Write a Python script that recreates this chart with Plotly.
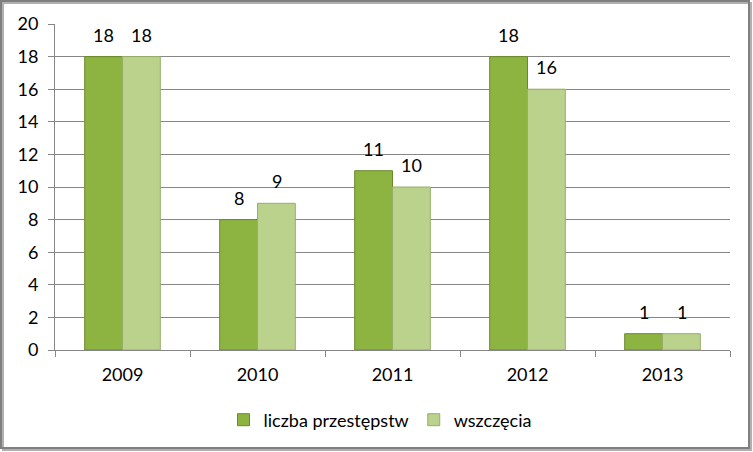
import plotly.graph_objects as go

years = ["2009", "2010", "2011", "2012", "2013"]
przestepstwa = [18, 8, 11, 18, 1]
wszczecia = [18, 9, 10, 16, 1]
y_ticks = [0, 2, 4, 6, 8, 10, 12, 14, 16, 18, 20]

W, H = 753, 452
L, R, T, B = 55, 23, 24, 102
pw, ph = W - L - R, H - T - B
FONT = "Lato"
FS = 18

fig = go.Figure()
fig.add_trace(go.Bar(
    x=years, y=przestepstwa, name="liczba przestępstw",
    marker=dict(color="#8DB440", line=dict(color="#6A8A2A", width=1)),
))
fig.add_trace(go.Bar(
    x=years, y=wszczecia, name="wszczęcia",
    marker=dict(color="#BAD28C", line=dict(color="#95AE68", width=1)),
))

annotations = []
for series, shift in ((przestepstwa, -19), (wszczecia, 19)):
    for i, v in enumerate(series):
        annotations.append(dict(x=i, y=v, xref="x", yref="y", text=str(v), showarrow=False,
                                xshift=shift, yshift=22, yanchor="middle",
                                font=dict(size=FS, family=FONT, color="#000000")))

def px_x(p):
    return (p - L) / pw

def px_y(p):
    return (H - B - p) / ph

fig.update_layout(
    width=W, height=H,
    margin=dict(l=L, r=R, t=T, b=B, autoexpand=False),
    paper_bgcolor="white", plot_bgcolor="white",
    barmode="group", bargap=0.44, bargroupgap=0,
    font=dict(family=FONT, size=FS, color="#000000"),
    showlegend=True,
    annotations=annotations,
    legend=dict(orientation="h", x=px_x(380), xanchor="center", y=px_y(420), yanchor="middle",
                font=dict(size=FS, family=FONT), traceorder="normal", itemwidth=30),
    xaxis=dict(type="category", range=[-0.5, len(years) - 0.5], showgrid=False, showline=True,
               linecolor="#868686", linewidth=1,
               ticks="outside", ticklen=6, tickcolor="#868686", tickson="boundaries",
               ticklabelstandoff=8,
               tickangle=0, tickfont=dict(size=FS, family=FONT), automargin=False),
    yaxis=dict(range=[0, 20], tickvals=y_ticks, showgrid=True, gridcolor="#868686", gridwidth=1,
               showline=True, linecolor="#868686", linewidth=1,
               ticks="outside", ticklen=6, tickcolor="#868686", ticklabelstandoff=6,
               tickfont=dict(size=FS, family=FONT), zeroline=False, automargin=False),
    shapes=[
        dict(type="rect", xref="paper", yref="paper",
             x0=px_x(3), x1=px_x(751), y0=px_y(450), y1=px_y(3),
             line=dict(color="#B0B0B0", width=2), layer="below"),
        dict(type="rect", xref="paper", yref="paper",
             x0=px_x(1), x1=px_x(749), y0=px_y(448), y1=px_y(1),
             line=dict(color="#7F7F7F", width=2), fillcolor="rgba(0,0,0,0)", layer="below"),
    ],
)

fig.write_html("out.html", config={"displayModeBar": False},
               post_script="document.body.style.margin='0';")
